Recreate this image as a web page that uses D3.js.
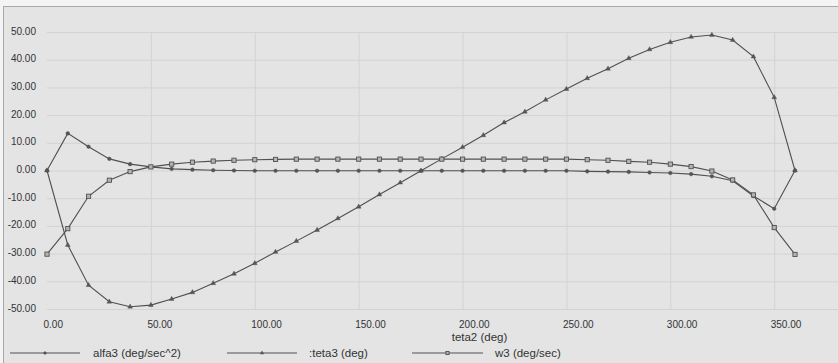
<!DOCTYPE html>
<html><head><meta charset="utf-8">
<script src="https://cdn.jsdelivr.net/npm/d3@7"></script>
<style>
html,body{margin:0;padding:0;background:#fff;}
svg{display:block;}
text{font-family:"Liberation Sans",Arial,sans-serif;fill:#333;}
</style></head>
<body>
<svg id="chart" width="838" height="363"></svg>
<script>
const angles = [0,10,20,30,40,50,60,70,80,90,100,110,120,130,140,150,160,170,180,190,200,210,220,230,240,250,260,270,280,290,300,310,320,330,340,350,360];
const alfa3 = [0,13.4,8.6,4.2,2.3,1.3,0.6,0.3,0.1,0.0,-0.1,-0.1,-0.1,-0.1,-0.1,-0.1,-0.1,-0.1,-0.1,-0.1,-0.1,-0.1,-0.1,-0.1,-0.1,-0.1,-0.3,-0.4,-0.5,-0.7,-0.9,-1.3,-2.1,-3.7,-9.2,-13.8,0];
const teta3 = [0,-26.9,-41.4,-47.4,-49.2,-48.6,-46.4,-44.0,-40.7,-37.3,-33.5,-29.4,-25.5,-21.5,-17.3,-13.1,-8.7,-4.4,-0.1,4.2,8.4,12.7,17.3,21.2,25.5,29.4,33.3,36.7,40.5,43.7,46.3,48.2,48.9,47.1,41.1,26.4,0];
const w3 = [-30.2,-21.0,-9.3,-3.5,-0.4,1.3,2.3,3.0,3.4,3.7,3.9,4.0,4.1,4.1,4.1,4.1,4.1,4.1,4.1,4.1,4.1,4.1,4.1,4.1,4.1,4.1,3.9,3.7,3.3,3.0,2.3,1.4,-0.2,-3.4,-8.8,-20.6,-30.3];
const yTicks = [-50,-40,-30,-20,-10,0,10,20,30,40,50];
const xTicks = [0,50,100,150,200,250,300,350];
const seriesNames = ["alfa3 (deg/sec^2)", ":teta3 (deg)", "w3 (deg/sec)"];
const xTitle = "teta2 (deg)";

const svg = d3.select("#chart");
const W = 838, H = 363;
const x = d3.scaleLinear().domain([0,360]).range([47,795]);
const y = d3.scaleLinear().domain([-50,50]).range([309,32]);

svg.append("rect").attr("x",0).attr("y",0).attr("width",W).attr("height",H).attr("fill","#f4f4f4");
svg.append("rect").attr("x",3).attr("y",6).attr("width",W-3).attr("height",H-6).attr("fill","#e4e4e4");
svg.append("line").attr("x1",3).attr("x2",W).attr("y1",6.5).attr("y2",6.5).attr("stroke","#a8a8a8");
svg.append("line").attr("x1",3.5).attr("x2",3.5).attr("y1",6).attr("y2",H).attr("stroke","#a8a8a8");

const fmt = d => d.toFixed(2);

const gy = svg.append("g").attr("transform","translate(47,0)")
  .call(d3.axisLeft(y).tickValues(yTicks).tickFormat(fmt).tickSize(-(W-47)).tickPadding(11));
gy.select(".domain").remove();
gy.selectAll(".tick line").attr("stroke","#d3d3d3").attr("stroke-width",1);
gy.selectAll(".tick text").attr("dy",null).attr("y",2).attr("font-size",10).attr("fill","#3a3a3a").attr("font-family","Liberation Sans, Arial, sans-serif");

const gx = svg.append("g").attr("transform","translate(0,309)")
  .call(d3.axisBottom(x).tickValues(xTicks).tickFormat(fmt).tickSize(-(309-32)));
gx.select(".domain").remove();
gx.selectAll(".tick line").attr("stroke","#d3d3d3").attr("stroke-width",1).filter(d=>d===0).remove();
gx.selectAll(".tick text").attr("dy",null).attr("y",19).attr("x",-4).attr("text-anchor","start")
  .attr("font-size",10).attr("fill","#3a3a3a").attr("font-family","Liberation Sans, Arial, sans-serif");

svg.append("text").attr("x",479.5).attr("y",341).attr("text-anchor","middle").attr("font-size",11.5).text(xTitle);

const lineColor = "#505050";
const markerFill = "#555";
function drawMarker(g, type, small){
  const k = small ? 0.75 : 1;
  if(type==="circle"){
    g.append("circle").attr("r",1.8*k).attr("fill",markerFill).attr("stroke",lineColor).attr("stroke-width",0.5);
  } else if(type==="triangle"){
    g.append("path").attr("d",d3.symbol(d3.symbolTriangle,10*k*k)()).attr("fill",markerFill).attr("stroke",lineColor).attr("stroke-width",0.4);
  } else {
    const s = 4.2*k;
    g.append("rect").attr("x",-s/2).attr("y",-s/2).attr("width",s).attr("height",s).attr("fill","#b4b4b4").attr("stroke",lineColor).attr("stroke-width",0.9);
  }
}

const series = [
  {name:seriesNames[0], vals:alfa3, marker:"circle"},
  {name:seriesNames[1], vals:teta3, marker:"triangle"},
  {name:seriesNames[2], vals:w3, marker:"square"}
];
const line = d3.line().x(d=>x(d[0])).y(d=>y(d[1]));
series.forEach(s=>{
  const pts = angles.map((a,i)=>[a,s.vals[i]]);
  svg.append("path").datum(pts).attr("d",line).attr("fill","none").attr("stroke",lineColor).attr("stroke-width",1.1);
  const mg = svg.append("g");
  pts.forEach(p=>{
    const g = mg.append("g").attr("transform",`translate(${x(p[0])},${y(p[1])})`);
    drawMarker(g, s.marker, false);
  });
});

const legendPos = [{x1:10,x2:80,tx:93},{x1:227,x2:297,tx:309},{x1:412,x2:483,tx:495}];
series.forEach((s,i)=>{
  const L = legendPos[i];
  const ly = 353;
  svg.append("line").attr("x1",L.x1).attr("x2",L.x2).attr("y1",ly).attr("y2",ly).attr("stroke",lineColor).attr("stroke-width",1);
  const g = svg.append("g").attr("transform",`translate(${(L.x1+L.x2)/2},${ly})`);
  drawMarker(g, s.marker, true);
  svg.append("text").attr("x",L.tx).attr("y",ly+4).attr("font-size",11.5).text(s.name);
});
</script>
</body></html>
